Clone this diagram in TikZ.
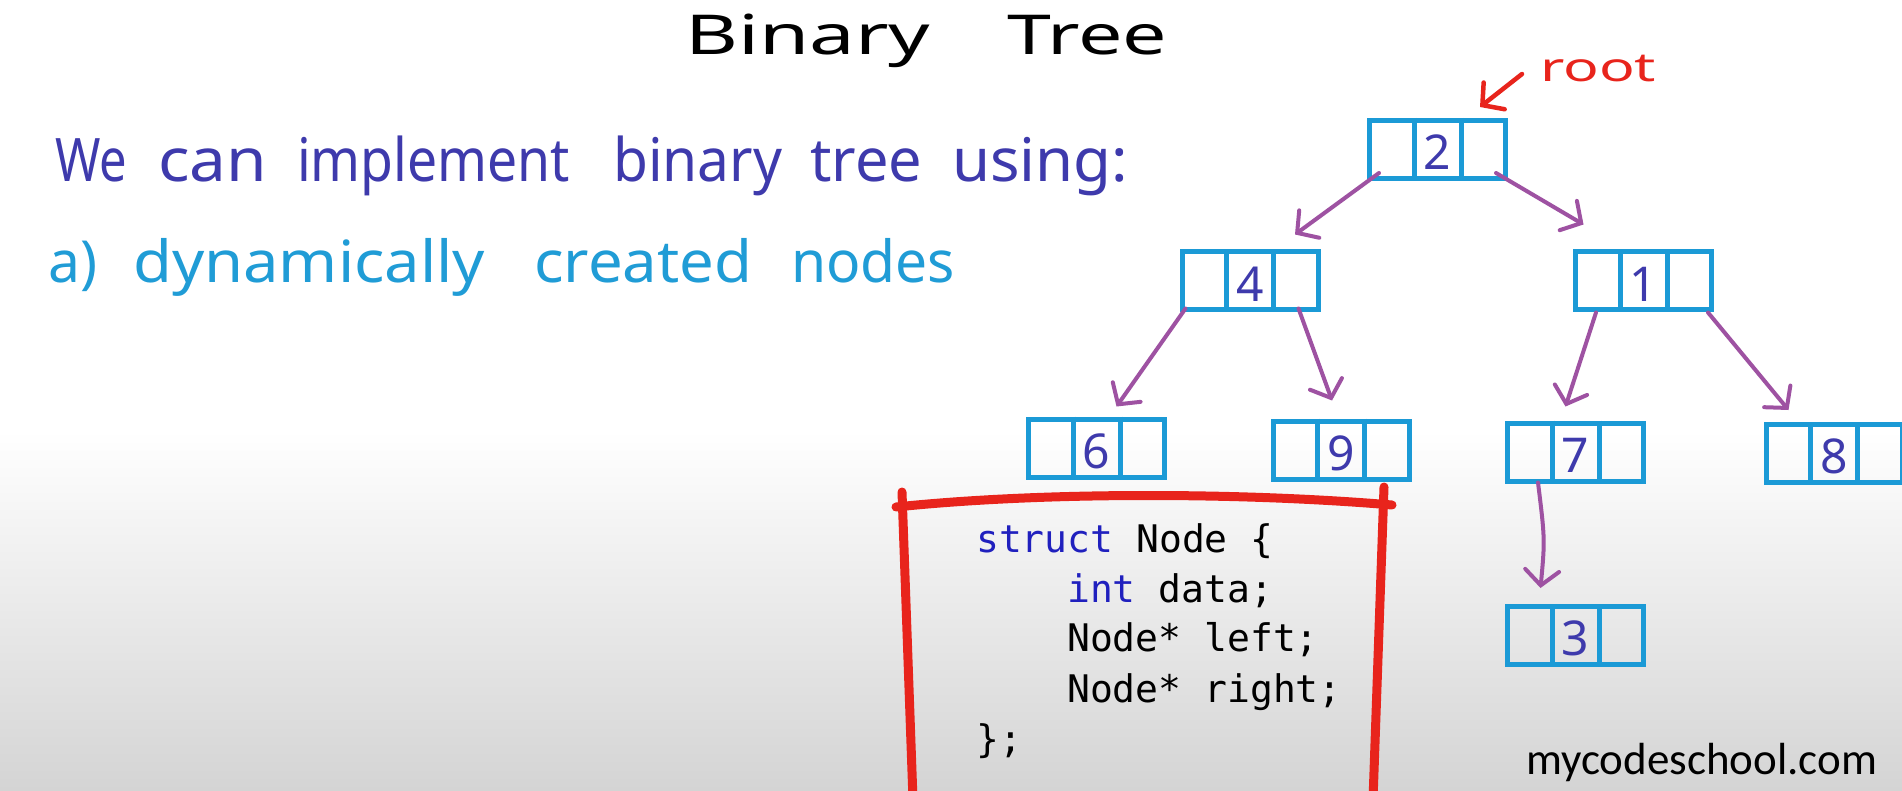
\documentclass[tikz,border=0pt]{standalone}
\usepackage{fontspec}
\usepackage{graphicx}
\setmainfont{Noto Sans}
\newfontfamily\codefont{DejaVu Sans Mono}
\newfontfamily\urlfont{Carlito}
\usetikzlibrary{arrows.meta,calc}
\definecolor{boxblue}{RGB}{27,154,214}
\definecolor{ink}{RGB}{62,58,172}
\definecolor{lightink}{RGB}{32,156,214}
\definecolor{arrowpurple}{RGB}{158,82,162}
\definecolor{redpen}{RGB}{232,36,28}
\definecolor{kwblue}{RGB}{32,32,190}
\definecolor{bggray}{RGB}{212,212,212}
\newcommand\hw[2]{\resizebox{#1}{\height}{#2}}
\newcommand\treenode[4]{%
  \node[tbox] (#1) at (#2,#3) {};
  \draw[cellline] ($(#1.north west)!1/3!(#1.north east)$) -- ($(#1.south west)!1/3!(#1.south east)$);
  \draw[cellline] ($(#1.north west)!2/3!(#1.north east)$) -- ($(#1.south west)!2/3!(#1.south east)$);
  \node[digit] (#1v) at ([yshift=-3pt]#1.center) {#4};
}
\begin{document}
\begin{tikzpicture}[x=1pt,y=-1pt,
  tbox/.style={draw=boxblue, line width=5pt, minimum width=136pt, minimum height=58pt, inner sep=0pt},
  cellline/.style={draw=boxblue, line width=5pt},
  digit/.style={text=ink, font=\fontsize{48pt}{56pt}\selectfont, inner sep=0pt},
  parrow/.style={draw=arrowpurple, line width=4pt, line cap=round, -{Straight Barb[length=15pt,width=34pt,line cap=round]}},
  rarrow/.style={draw=redpen, line width=4.5pt, line cap=round, -{Straight Barb[length=15pt,width=34pt,line cap=round]}},
  hwtext/.style={inner sep=0pt, anchor=base west},
  redline/.style={draw=redpen, line width=9pt, line cap=round},
  codeline/.style={inner sep=0pt, anchor=base west, font=\codefont\fontsize{38pt}{46pt}\selectfont}
]
\useasboundingbox (0,0) rectangle (1902,791);
\clip (0,0) rectangle (1902,791);
\fill[white] (0,0) rectangle (1902,791);
\shade[top color=white, bottom color=bggray] (0,430) rectangle (1902,791);

% title
\begin{scope}[every node/.style={hwtext, font=\fontsize{55pt}{64pt}\selectfont, text=black}]
\node (t1) at (685,55) {\hw{245pt}{Binary}};
\node (t2) at (1007,55) {\hw{160pt}{Tree}};
\end{scope}

% line 1
\begin{scope}[every node/.style={hwtext, font=\fontsize{60pt}{70pt}\selectfont, text=ink}]
\node (w1) at (55,182) {\hw{72pt}{We}};
\node (w2) at (158,182) {\hw{109pt}{can}};
\node (w3) at (297,182) {\hw{273pt}{implement}};
\node (w4) at (613,182) {\hw{169pt}{binary}};
\node (w5) at (810,182) {\hw{112pt}{tree}};
\node (w6) at (952,182) {\hw{176pt}{using:}};
\end{scope}

% line 2
\begin{scope}[every node/.style={hwtext, font=\fontsize{58pt}{68pt}\selectfont, text=lightink}]
\node (a1) at (48,283) {\hw{49pt}{a)}};
\node (a2) at (133,283) {\hw{352pt}{dynamically}};
\node (a3) at (534,283) {\hw{218pt}{created}};
\node (a4) at (791,283) {\hw{164pt}{nodes}};
\end{scope}

% root label
\node[hwtext, font=\fontsize{40pt}{48pt}\selectfont, text=redpen] (root) at (1540,82) {\hw{116pt}{root}};

% tree nodes
\treenode{n2}{1437.5}{149.5}{2}
\treenode{n4}{1250}{281}{4}
\treenode{n1}{1643.5}{281}{1}
\treenode{n6}{1096.5}{448}{6}
\treenode{n9}{1341}{450}{9}
\treenode{n7}{1575.5}{452}{7}
\treenode{n8}{1834}{453.5}{8}
\treenode{n3}{1575.5}{635.5}{3}

% connectors
\draw[rarrow] ([shift={(-18,5)}]root.west) -- ([shift={(-28,-11)}]n2.north east);
\draw[parrow] ([shift={(12,-8)}]n2.south west) -- ([shift={(45,-15)}]n4.north);
\draw[parrow] ([shift={(-12,-8)}]n2.south east) -- ([shift={(-60,-25)}]n1.north);
\draw[parrow] ([shift={(6,-4)}]n4.south west) -- ([shift={(20,-10)}]n6.north);
\draw[parrow] ([shift={(-22,-4)}]n4.south east) -- ([shift={(-9,-18)}]n9.north);
\draw[parrow] ([shift={(23,0)}]n1.south west) -- ([shift={(-10,-14)}]n7.north);
\draw[parrow] ([shift={(-6,0)}]n1.south east) -- ([shift={(25,-12)}]n8.north west);
\draw[parrow] ([shift={(33,-1)}]n7.south west) .. controls ([shift={(40,56)}]n7.south west) .. ([shift={(-35,-16)}]n3.north);

% code box
\node[codeline] (c1) at (976,552) {\textcolor{kwblue}{struct} Node \{};
\node[codeline] (c2) at (1067,602) {\textcolor{kwblue}{int} data;};
\node[codeline] (c3) at (1067,651) {Node* left;};
\node[codeline] (c4) at (1067,702) {Node* right;};
\node[codeline] (c5) at (976,752) {\};};
\draw[redline] (896,507) .. controls (1050,491) and (1250,493) .. (1392,505);
\draw[redline] (902,492) -- (913,800);
\draw[redline] (1384,487) -- (1373,800);

% watermark
\node[hwtext, font=\urlfont\fontsize{45pt}{52pt}\selectfont, text=black] (url) at (1526,774) {mycodeschool.com};
\end{tikzpicture}
\end{document}
